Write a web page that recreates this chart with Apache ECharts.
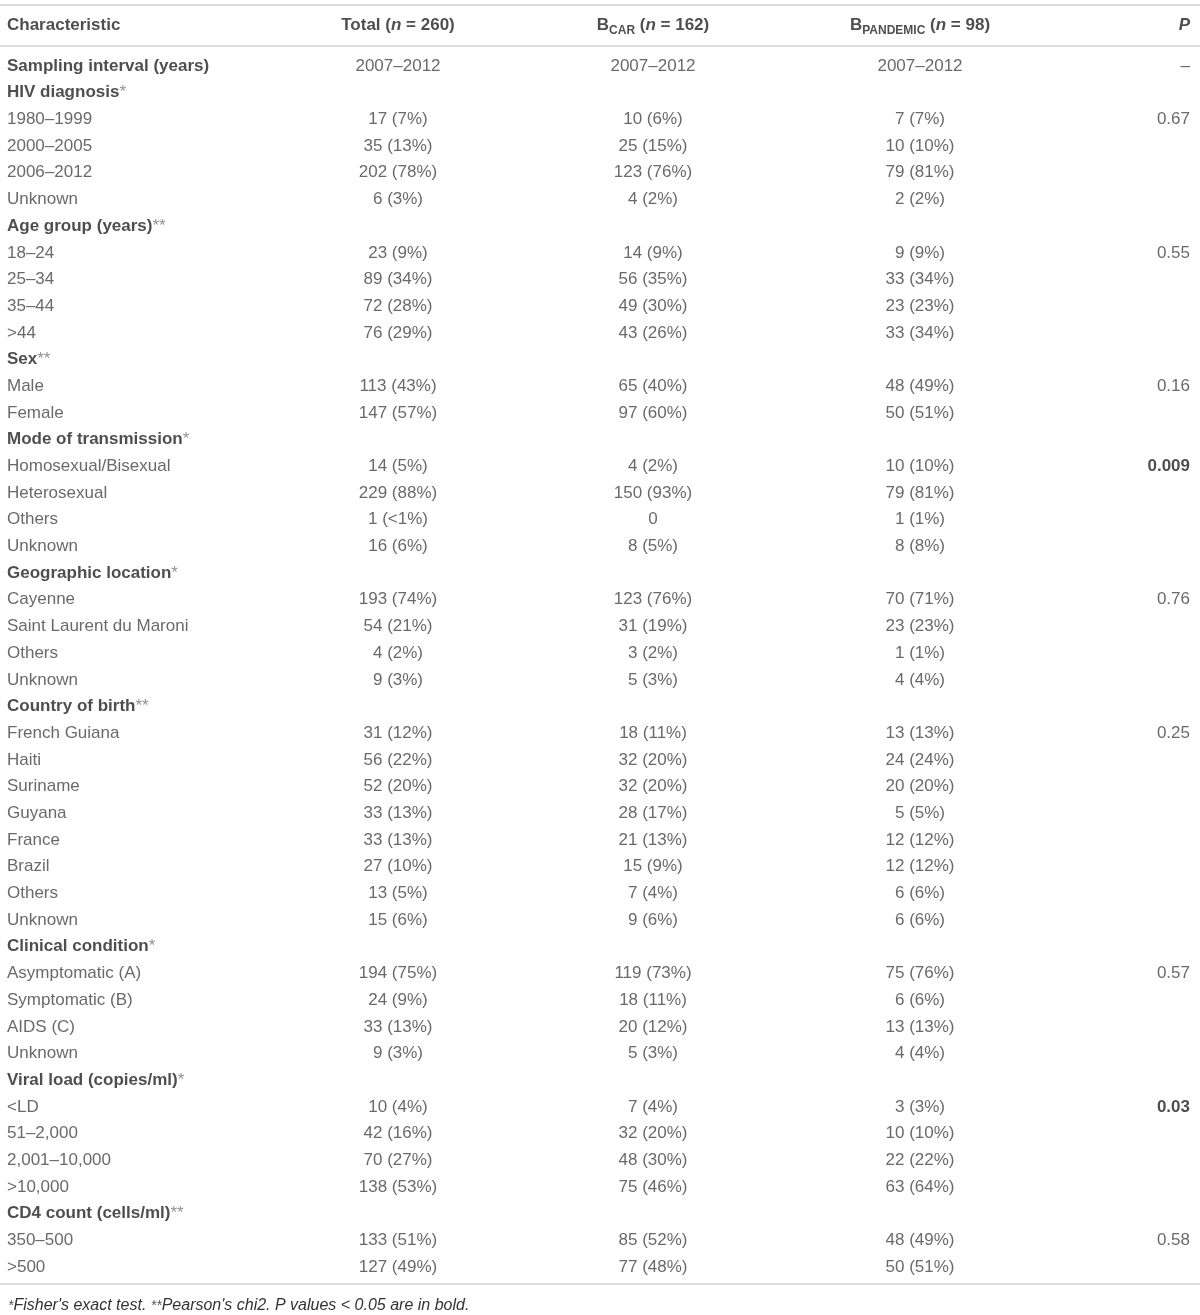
<!DOCTYPE html>
<html>
<head>
<meta charset="utf-8">
<script src="https://cdn.jsdelivr.net/npm/echarts@6/dist/echarts.min.js"></script>
<style>
  html, body { margin: 0; padding: 0; background: #fff; }
  #chart { width: 1200px; height: 1315px; }
</style>
</head>
<body>
<div id="chart"></div>
<script>
// table contents
const characteristics = [
  'Sampling interval (years)', 'HIV diagnosis*', '1980–1999', '2000–2005', '2006–2012', 'Unknown',
  'Age group (years)**', '18–24', '25–34', '35–44', '>44',
  'Sex**', 'Male', 'Female',
  'Mode of transmission*', 'Homosexual/Bisexual', 'Heterosexual', 'Others', 'Unknown',
  'Geographic location*', 'Cayenne', 'Saint Laurent du Maroni', 'Others', 'Unknown',
  'Country of birth**', 'French Guiana', 'Haiti', 'Suriname', 'Guyana', 'France', 'Brazil', 'Others', 'Unknown',
  'Clinical condition*', 'Asymptomatic (A)', 'Symptomatic (B)', 'AIDS (C)', 'Unknown',
  'Viral load (copies/ml)*', '<LD', '51–2,000', '2,001–10,000', '>10,000',
  'CD4 count (cells/ml)**', '350–500', '>500'
]
// rows written in bold (section titles)
const sectionRows = [0, 1, 6, 11, 14, 19, 24, 33, 38, 43]

const totalVals = [
  '2007–2012', '', '17 (7%)', '35 (13%)', '202 (78%)', '6 (3%)',
  '', '23 (9%)', '89 (34%)', '72 (28%)', '76 (29%)',
  '', '113 (43%)', '147 (57%)',
  '', '14 (5%)', '229 (88%)', '1 (<1%)', '16 (6%)',
  '', '193 (74%)', '54 (21%)', '4 (2%)', '9 (3%)',
  '', '31 (12%)', '56 (22%)', '52 (20%)', '33 (13%)', '33 (13%)', '27 (10%)', '13 (5%)', '15 (6%)',
  '', '194 (75%)', '24 (9%)', '33 (13%)', '9 (3%)',
  '', '10 (4%)', '42 (16%)', '70 (27%)', '138 (53%)',
  '', '133 (51%)', '127 (49%)'
]
const bcarVals = [
  '2007–2012', '', '10 (6%)', '25 (15%)', '123 (76%)', '4 (2%)',
  '', '14 (9%)', '56 (35%)', '49 (30%)', '43 (26%)',
  '', '65 (40%)', '97 (60%)',
  '', '4 (2%)', '150 (93%)', '0', '8 (5%)',
  '', '123 (76%)', '31 (19%)', '3 (2%)', '5 (3%)',
  '', '18 (11%)', '32 (20%)', '32 (20%)', '28 (17%)', '21 (13%)', '15 (9%)', '7 (4%)', '9 (6%)',
  '', '119 (73%)', '18 (11%)', '20 (12%)', '5 (3%)',
  '', '7 (4%)', '32 (20%)', '48 (30%)', '75 (46%)',
  '', '85 (52%)', '77 (48%)'
]
const bpandVals = [
  '2007–2012', '', '7 (7%)', '10 (10%)', '79 (81%)', '2 (2%)',
  '', '9 (9%)', '33 (34%)', '23 (23%)', '33 (34%)',
  '', '48 (49%)', '50 (51%)',
  '', '10 (10%)', '79 (81%)', '1 (1%)', '8 (8%)',
  '', '70 (71%)', '23 (23%)', '1 (1%)', '4 (4%)',
  '', '13 (13%)', '24 (24%)', '20 (20%)', '5 (5%)', '12 (12%)', '12 (12%)', '6 (6%)', '6 (6%)',
  '', '75 (76%)', '6 (6%)', '13 (13%)', '4 (4%)',
  '', '3 (3%)', '10 (10%)', '22 (22%)', '63 (64%)',
  '', '48 (49%)', '50 (51%)'
]
const pVals = [
  '–', '', '0.67', '', '', '',
  '', '0.55', '', '', '',
  '', '0.16', '',
  '', '0.009', '', '', '',
  '', '0.76', '', '', '',
  '', '0.25', '', '', '', '', '', '', '',
  '', '0.57', '', '', '',
  '', '0.03', '', '', '',
  '', '0.58', ''
]
const boldP = ['0.009', '0.03']

const headers = [
  '{b|Characteristic}',
  '{b|Total (}{bi|n}{b| = 260)}',
  '{b|B}{sub|CAR}{b| (}{bi|n}{b| = 162)}',
  '{b|B}{sub|PANDEMIC}{b| (}{bi|n}{b| = 98)}',
  '{bi|P}'
]
const footnote = '{s|*}{t|Fisher\'s exact test. }{s|**}{t|Pearson\'s chi2. P values < 0.05 are in bold.}'

// column anchors (x in px) and alignment
const colX = [7, 398, 653, 920, 1190]
const colPos = ['right', 'inside', 'inside', 'inside', 'left']

const FONT = '"Liberation Sans", Arial, sans-serif'
const rich = {
  n: { fontFamily: FONT, fontSize: 17, color: '#444', lineHeight: 22 },
  b: { fontFamily: FONT, fontSize: 17, fontWeight: 'bold', color: '#222', lineHeight: 22 },
  bi: { fontFamily: FONT, fontSize: 17, fontWeight: 'bold', fontStyle: 'italic', color: '#222', lineHeight: 22 },
  m: { fontFamily: FONT, fontSize: 17, color: '#777', lineHeight: 22 },
  sub: { fontFamily: FONT, fontSize: 12, fontWeight: 'bold', color: '#222', lineHeight: 12, verticalAlign: 'bottom' }
}

function cellText(col, row, text) {
  if (col === 0) {
    if (sectionRows.indexOf(row) >= 0) {
      let m = text.match(/^(.*?)(\*+)$/)
      if (m) return '{b|' + m[1] + '}{m|' + m[2] + '}'
      return '{b|' + text + '}'
    }
    return '{n|' + text + '}'
  }
  if (col === 4 && boldP.indexOf(text) >= 0) return '{b|' + text + '}'
  return '{n|' + text + '}'
}

const columns = [characteristics, totalVals, bcarVals, bpandVals, pVals]
const rowIdx = characteristics.map((d, i) => i)

let series = []
columns.forEach((col, c) => {
  let data = []
  col.forEach((txt, r) => {
    if (txt !== '') data.push({ value: [colX[c], r], text: txt })
  })
  series.push({
    type: 'scatter',
    xAxisIndex: 2,
    yAxisIndex: 1,
    symbolSize: 0,
    silent: true,
    data: data,
    label: {
      show: true,
      position: colPos[c],
      distance: 0,
      formatter: p => cellText(c, p.data.value[1], p.data.text),
      rich: rich
    }
  })
})
// header row
series.push({
  type: 'scatter',
  xAxisIndex: 0,
  yAxisIndex: 0,
  symbolSize: 0,
  silent: true,
  data: headers.map((h, c) => ({ value: [colX[c], 0], text: h, label: { position: colPos[c] } })),
  label: {
    show: true,
    position: 'inside',
    distance: 0,
    formatter: p => p.data.text,
    rich: rich
  }
})

const chart = echarts.init(document.getElementById('chart'))

const lineStyle = { color: '#dcdcdc', width: 2 }
const hiddenX = {
  type: 'value', min: 0, max: 1200,
  axisLabel: { show: false }, axisTick: { show: false }, splitLine: { show: false }
}

const option = {
  animation: false,
  backgroundColor: '#fff',
  title: {
    text: footnote,
    left: 3,
    top: 1291,
    textStyle: {
      fontWeight: 'normal',
      rich: {
        s: { fontFamily: FONT, fontSize: 14, fontWeight: 'normal', fontStyle: 'italic', color: '#555', lineHeight: 20 },
        t: { fontFamily: FONT, fontSize: 16, fontWeight: 'normal', fontStyle: 'italic', color: '#333', lineHeight: 20 }
      }
    }
  },
  grid: [
    { left: 0, right: 0, top: 5, height: 41 },
    { left: 0, right: 0, top: 52.65, height: 1227.75 }
  ],
  xAxis: [
    Object.assign({}, hiddenX, { gridIndex: 0, position: 'bottom', axisLine: { show: true, lineStyle: lineStyle } }),
    Object.assign({}, hiddenX, { gridIndex: 0, position: 'top', axisLine: { show: true, lineStyle: lineStyle } }),
    Object.assign({}, hiddenX, { gridIndex: 1, position: 'bottom', offset: 3, axisLine: { show: true, lineStyle: lineStyle } })
  ],
  yAxis: [
    { type: 'category', gridIndex: 0, data: [0], show: false },
    { type: 'category', gridIndex: 1, data: rowIdx, inverse: true, show: false }
  ],
  series: series
}

chart.setOption(option)
</script>
</body>
</html>
